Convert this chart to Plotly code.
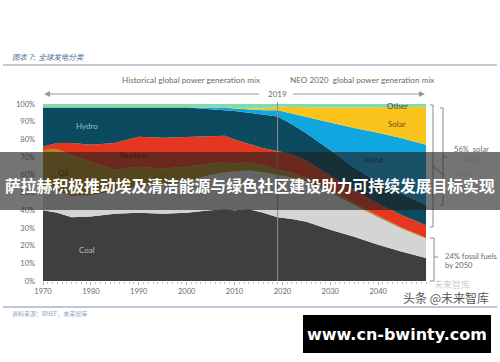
import plotly.graph_objects as go

# ---------------- data (share of global generation, %) ----------------
years = [1970, 1973, 1976, 1980, 1985, 1990, 1995, 2000, 2005, 2008, 2010,
         2013, 2016, 2019, 2022, 2025, 2030, 2035, 2040, 2045, 2050]
coal    = [40, 38.5, 36, 36.5, 38, 38.5, 38, 38.5, 40, 40.5, 40, 40.5, 38.5, 36, 35, 33.5, 29, 25, 20.5, 16.5, 13]
gas     = [12, 12.5, 12, 12, 13, 15, 16, 18, 20, 21, 22, 22, 23, 24, 23.5, 23, 21, 18, 15.5, 13, 11]
oil     = [22, 23.5, 23, 19, 12, 11, 9.5, 8, 6.5, 5.5, 4.5, 4.5, 4, 3, 2.5, 2, 1.5, 1, 0.8, 0.6, 0.5]
nuclear = [2, 3.5, 7, 9.5, 15, 17, 17.5, 17, 15.5, 15, 13.5, 10.5, 9.5, 10.5, 10.5, 9.5, 8, 7.5, 7, 7, 7]
hydro   = [22, 20, 20, 21, 20, 16.8, 17.2, 16.5, 15, 14.5, 16, 17.5, 19, 19.5, 17, 15.5, 14.5, 12.5, 12, 12, 11.5]
wind    = [0, 0, 0, 0, 0, 0, 0, 0.2, 1, 1.5, 1.5, 2, 2.5, 3.5, 6, 9, 15.5, 22.5, 28, 31.5, 34]
solar   = [0, 0, 0, 0, 0, 0, 0, 0, 0, 0.1, 0.2, 0.5, 1, 2, 3.8, 5.5, 8.5, 11.5, 14.5, 18, 21.5]
other   = [2, 2, 2, 2, 2, 1.7, 1.8, 1.8, 2, 1.9, 2.3, 2.5, 2.5, 1.5, 1.7, 2, 2, 2, 1.7, 1.4, 1.5]

series = [
    ("Coal", coal, "#3f3f3f"),
    ("Gas", gas, "#d4d4d4"),
    ("Oil", oil, "#a8861e"),
    ("Nuclear", nuclear, "#e5371f"),
    ("Hydro", hydro, "#0b4a5f"),
    ("Wind", wind, "#10a6df"),
    ("Solar", solar, "#f9c31b"),
    ("Other", other, "#80dcae"),
]

x_ticks = [1970, 1980, 1990, 2000, 2010, 2020, 2030, 2040]
y_ticks = [0, 10, 20, 30, 40, 50, 60, 70, 80, 90, 100]

# ---------------- layout helpers (pixel -> paper) ----------------
L, R, T, B = 43, 426, 104, 281
W, H = 500, 362


def px(x):
    return (x - L) / (R - L)


def py(y):
    return (B - y) / (B - T)


fig = go.Figure()
for name, vals, col in series:
    fig.add_trace(go.Scatter(
        x=years, y=vals, name=name, stackgroup="one", mode="lines",
        line=dict(width=0, color=col), fillcolor=col, hoverinfo="skip"))

GRAY = "#6a6a6a"
FONT = "Lato, Open Sans, sans-serif"
CJK = "Noto Sans CJK SC"

ann = []


def text(x, y, s, size=7, color=GRAY, anchor="center", font=FONT):
    ann.append(dict(x=px(x), y=py(y), xref="paper", yref="paper", text=s,
                    showarrow=False, xanchor=anchor, yanchor="middle",
                    font=dict(size=size, color=color, family=font)))


shapes = []


def line(x0, y0, x1, y1, color="#8a8a8a", width=1):
    shapes.append(dict(type="line", xref="paper", yref="paper",
                       x0=px(x0), y0=py(y0), x1=px(x1), y1=py(y1),
                       line=dict(color=color, width=width), layer="above"))


# header
text(10, 57, "<i>图表 7:  全球发电分类</i>", size=7.5, color="#4a6a9a", anchor="left", font=CJK)
line(3, 65, 497, 65, color="#8a9ab0", width=1.2)

# period titles
text(191, 80, "Historical global power generation mix", size=8.2)
text(362, 80, "NEO 2020  global power generation mix", size=8.2)

# arrow line with 2019
line(46, 94, 259, 94, color="#9a9a9a")
line(293, 94, 422, 94, color="#9a9a9a")
ann.append(dict(x=px(44), y=py(94), ax=8, ay=0, xref="paper", yref="paper",
                axref="pixel", ayref="pixel", showarrow=True, arrowhead=2,
                arrowsize=1, arrowwidth=1.2, arrowcolor="#9a9a9a", text=""))
ann.append(dict(x=px(425), y=py(94), ax=-8, ay=0, xref="paper", yref="paper",
                axref="pixel", ayref="pixel", showarrow=True, arrowhead=2,
                arrowsize=1, arrowwidth=1.2, arrowcolor="#9a9a9a", text=""))
text(277, 94, "2019", size=8)

# 2019 divider
shapes.append(dict(type="line", xref="x", yref="paper", x0=2019, x1=2019, y0=0, y1=py(102),
                   line=dict(color="#8f8f8f", width=1), layer="above"))

# in-plot labels
text(87, 126, "Hydro", size=8, color="#8cc0d8")
text(133, 155, "Nuclear", size=8, color="#3a1a10")
text(63, 173, "Oil", size=8, color="#2a2a2a")
text(87, 250, "Coal", size=8, color="#bdbdbd")
text(397, 106, "Other", size=8, color="#4a4a4a")
text(397, 124, "Solar", size=8, color="#6a5010")
text(373, 160, "Wind", size=8, color="#1a2a30")

# right brackets
line(430, 105, 433, 105); line(433, 105, 433, 227); line(430, 227, 433, 227)
line(440, 108, 443, 108); line(443, 108, 443, 205); line(440, 205, 443, 205)
line(443, 157, 447, 157)
line(433, 166, 443, 175)
text(452, 149, "56%  solar", size=7.6, anchor="left")
text(452, 159, "&  wind", size=7.6, anchor="left")
text(456, 174, "69%", size=7.6, anchor="left")
line(430, 238, 434, 238); line(434, 238, 434, 281); line(430, 281, 434, 281)
line(434, 257, 438, 257)
text(443, 256, "24% fossil fuels", size=7.6, anchor="left")
text(443, 265, "by 2050", size=7.6, anchor="left")

# bottom rule and source
line(3, 307, 497, 307, color="#7a95b0", width=1.2)
text(10, 313, "资料来源：BNEF，未来智库", size=6, color="#8aa6c6", anchor="left", font=CJK)

# overlays: banner
shapes.append(dict(type="rect", xref="paper", yref="paper", x0=px(0), x1=px(W),
                   y0=py(210), y1=py(152), fillcolor="rgba(30,30,30,0.62)",
                   line=dict(width=0), layer="above"))
text(250, 185, "<b>萨拉赫积极推动埃及清洁能源与绿色社区建设助力可持续发展目标实现</b>",
     size=15.8, color="#ffffff", font=CJK)

# watermarks
text(452, 284, "未来智库", size=9, color="#d0d0d0", font=CJK)
text(446, 297, "头条 @未来智库", size=12, color="#555555", font=CJK)

# url box
shapes.append(dict(type="rect", xref="paper", yref="paper", x0=px(303), x1=px(491),
                   y0=py(353), y1=py(315), fillcolor="#000000",
                   line=dict(width=0), layer="above"))
text(397, 334, "<b>www.cn-bwinty.com</b>", size=16, color="#ffffff", font="DejaVu Sans, sans-serif")

fig.update_layout(
    width=W, height=H, margin=dict(l=L, r=W - R, t=T, b=H - B),
    paper_bgcolor="#ffffff", plot_bgcolor="#ffffff", showlegend=False,
    annotations=ann, shapes=shapes,
    xaxis=dict(range=[1970, 2050], tickvals=x_ticks, ticks="outside", ticklen=3,
               tickcolor="#aaaaaa", showgrid=False, zeroline=False, showline=False,
               tickfont=dict(size=7.5, color=GRAY, family=FONT),
               minor=dict(dtick=1, ticks="outside", ticklen=2, tickcolor="#bbbbbb")),
    yaxis=dict(range=[0, 100], tickvals=y_ticks, ticktext=[f"{v}%" for v in y_ticks],
               showgrid=False, zeroline=False, showline=False, ticks="",
               ticklabelstandoff=7,
               tickfont=dict(size=7.5, color=GRAY, family=FONT)),
)

fig.write_html("out.html", config={"displayModeBar": False},
               post_script="document.body.style.margin='0';document.body.style.padding='0';")
